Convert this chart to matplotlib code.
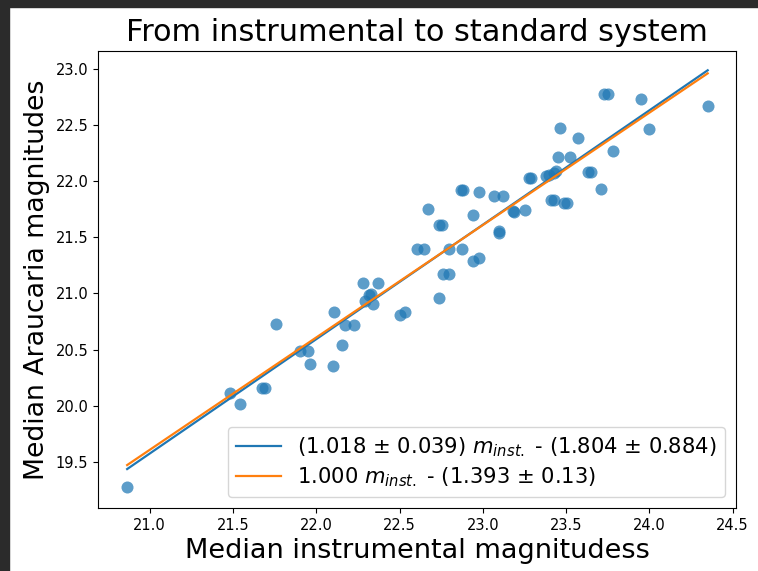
"""
Instrumental vs standard magnitudes (Araucaria calibration)
"""

import numpy as np
import matplotlib.pyplot as plt
from matplotlib.patches import Rectangle

# median instrumental magnitudes (x) and Araucaria magnitudes (y)
m_inst = [23.73, 23.75, 23.95, 24.35, 23.465, 24.00, 23.57, 23.78, 23.45, 23.525,
          23.63, 23.65, 23.71, 23.38, 23.40, 23.44, 23.425, 23.275, 23.29, 23.41,
          23.43, 23.487, 23.507, 22.87, 22.88, 22.98, 22.67, 23.07, 23.12, 22.94,
          22.74, 22.755, 23.18, 23.19, 23.255, 23.10, 23.10, 22.605, 22.65, 22.80,
          22.875, 22.94, 22.975, 22.76, 22.80, 22.37, 22.28, 22.316, 22.331, 22.29,
          22.34, 22.106, 21.76, 22.17, 22.225, 22.155, 21.905, 21.953, 21.96, 22.10,
          21.48, 21.54, 21.675, 21.69, 20.865, 22.50, 22.535, 22.74]
m_arau = [22.77, 22.77, 22.73, 22.67, 22.47, 22.465, 22.38, 22.27, 22.21, 22.21,
          22.075, 22.075, 21.925, 22.04, 22.05, 22.09, 22.07, 22.03, 22.03, 21.83,
          21.83, 21.805, 21.805, 21.915, 21.915, 21.90, 21.75, 21.865, 21.865, 21.70,
          21.605, 21.605, 21.735, 21.72, 21.74, 21.555, 21.54, 21.39, 21.39, 21.39,
          21.39, 21.29, 21.315, 21.175, 21.175, 21.09, 21.09, 20.985, 20.995, 20.93,
          20.905, 20.83, 20.725, 20.715, 20.715, 20.54, 20.49, 20.49, 20.37, 20.355,
          20.115, 20.015, 20.155, 20.155, 19.28, 20.81, 20.83, 20.96]

# fit results
slope_free, zp_free = 1.018, 1.804
slope_fixed, zp_fixed = 1.000, 1.393

x = np.sort(np.array(m_inst))

fig = plt.figure(figsize=(7.58, 5.71), dpi=100)
ax = fig.add_axes([98/758, 63/571, 638/758, 457/571])

# dark notebook border of the screenshot
fig.patches.append(Rectangle((0, 1 - 7/571), 1, 7/571, transform=fig.transFigure,
                             color='#2b2b2b', zorder=10))
fig.patches.append(Rectangle((0, 0), 9/758, 1, transform=fig.transFigure,
                             color='#2b2b2b', zorder=10))

ax.scatter(m_inst, m_arau, s=75, alpha=0.72, color='C0', linewidths=0)
ax.plot(x, slope_free * x - zp_free, color='C0', lw=1.6,
        label=r'(1.018 $\pm$ 0.039) $m_{inst.}$ - (1.804 $\pm$ 0.884)')
ax.plot(x, slope_fixed * x - zp_fixed, color='C1', lw=1.6,
        label=r'1.000 $m_{inst.}$ - (1.393 $\pm$ 0.13)')

ax.set_xlim(20.69, 24.52)
ax.set_ylim(19.09, 23.156)
ax.set_xticks(np.arange(21.0, 24.51, 0.5))
ax.set_yticks(np.arange(19.5, 23.01, 0.5))
ax.tick_params(labelsize=10.5)

ax.set_title('From instrumental to standard system', fontsize=21.8, pad=7)
ax.set_xlabel('Median instrumental magnitudess', fontsize=19.5)
ax.set_ylabel('Median Araucaria magnitudes', fontsize=19.3)
ax.legend(loc='lower right', fontsize=15.2, labelspacing=0.3, handlelength=2.1)

plt.savefig('out.png')
